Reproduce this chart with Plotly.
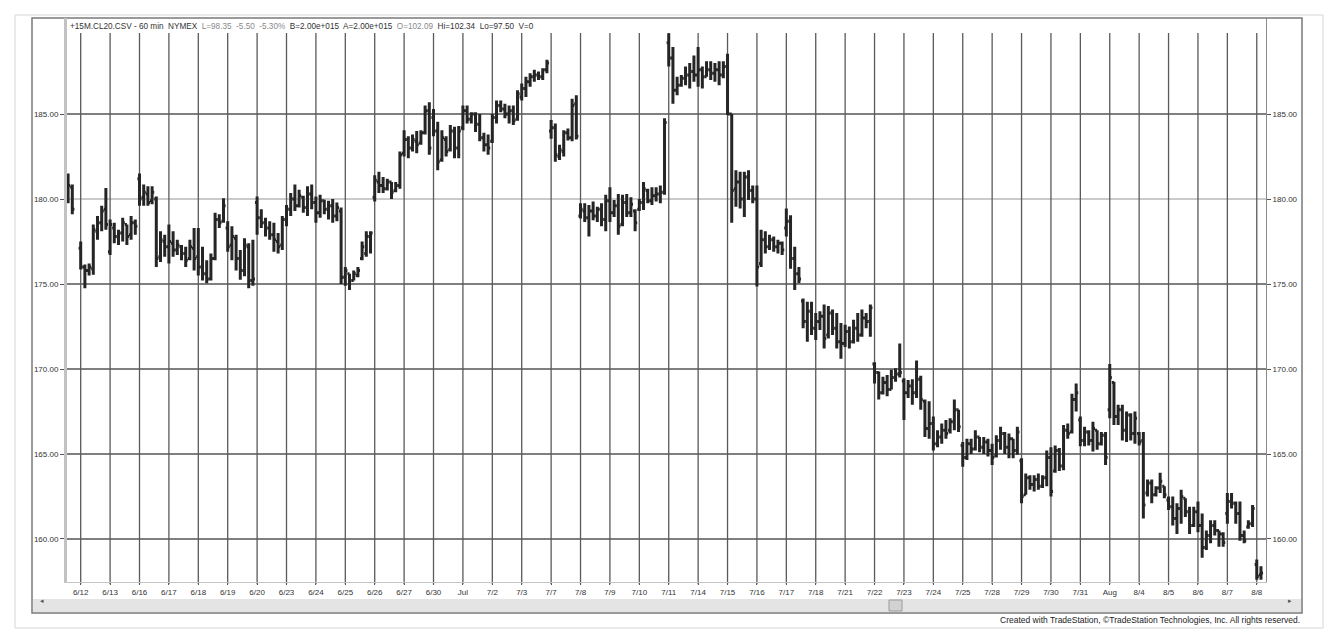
import plotly.graph_objects as go

# ---------------- data (60-min bars) ----------------
day_labels = ["6/12", "6/13", "6/16", "6/17", "6/18", "6/19", "6/20", "6/23", "6/24", "6/25",
              "6/26", "6/27", "6/30", "Jul", "7/2", "7/3", "7/7", "7/8", "7/9", "7/10",
              "7/11", "7/14", "7/15", "7/16", "7/17", "7/18", "7/21", "7/22", "7/23", "7/24",
              "7/25", "7/28", "7/29", "7/30", "7/31", "Aug", "8/4", "8/5", "8/6", "8/7", "8/8"]
bars_per_day = 7

bar_x = [-3, -2] + list(range(0, 282))

opens = [181.0, 180.7,
         177.1, 176.0, 175.8, 175.9, 178.1, 178.6, 179.4,
         176.9, 178.3, 177.8, 178.0, 178.5, 177.9, 178.6,
         181.2, 180.1, 180.3, 179.9, 180.0, 176.6, 177.5,
         177.2, 177.4, 177.0, 177.2, 176.8, 176.5, 177.1,
         176.6, 176.0, 175.6, 175.3, 176.5, 178.8, 178.7,
         178.3, 177.3, 177.7, 176.5, 175.8, 177.2, 175.2,
         179.8, 178.9, 178.6, 178.3, 177.9, 177.5, 177.3,
         178.8, 179.4, 180.0, 179.6, 180.1, 179.5, 180.3,
         179.8, 179.2, 179.9, 179.4, 179.6, 179.0, 179.3,
         175.4, 175.6, 175.2, 175.5, 176.5, 176.8, 177.8,
         180.1, 181.0, 180.8, 180.6, 181.0, 180.5, 180.8,
         182.7, 183.5, 183.0, 183.4, 183.3, 183.9, 185.2,
         184.8, 184.0, 182.3, 183.5, 182.9, 184.0, 183.0,
         184.2, 185.2, 184.7, 185.0, 184.4, 183.6, 183.2,
         183.4, 184.8, 185.5, 185.3, 185.0, 185.2, 184.7,
         186.0, 186.5, 186.9, 187.2, 187.3, 187.2, 187.6,
         184.0, 184.2, 182.5, 182.8, 183.9, 183.6, 185.6,
         179.0, 179.3, 178.9, 179.3, 179.0, 179.4, 178.8,
         179.9, 179.2, 179.6, 178.5, 179.8, 179.2, 179.3,
         179.4, 179.8, 180.5, 179.9, 180.2, 180.3, 180.4,
         189.2, 188.3, 186.4, 186.7, 187.1, 187.3, 187.5,
         187.3, 187.6, 187.2, 187.6, 187.4, 187.6, 187.3,
         187.8, 185.0, 180.6, 181.0, 180.0, 181.3, 180.5,
         180.0, 176.2, 177.6, 177.2, 177.6, 177.2, 177.4,
         178.3, 178.7, 176.5, 175.6, 174.0, 172.8, 173.4,
         172.4, 172.8, 173.1, 172.0, 173.3, 172.4, 171.6,
         171.5, 172.2, 171.6, 172.4, 172.0, 173.0, 172.8,
         170.3, 169.8, 168.6, 169.2, 168.8, 169.5, 169.7,
         169.3, 168.6, 169.0, 168.6, 169.4, 168.1, 166.5,
         166.8, 165.6, 166.0, 166.4, 166.4, 166.9, 167.6,
         165.5, 164.8, 165.6, 165.3, 166.0, 165.4, 165.7,
         165.2, 164.9, 165.8, 166.2, 165.4, 165.9, 165.2,
         164.6, 162.6, 163.6, 163.2, 163.5, 163.1, 163.6,
         164.8, 164.0, 165.2, 164.3, 166.4, 166.3, 168.2,
         167.0, 165.8, 166.3, 165.8, 166.4, 165.6, 166.1,
         167.6, 169.2, 167.2, 167.6, 166.4, 167.3, 166.2,
         166.2, 165.8, 162.7, 163.3, 162.6, 163.0, 163.1,
         162.3, 161.9, 161.2, 161.8, 162.4, 161.6, 160.8,
         161.6, 160.8, 159.5, 160.2, 160.8, 160.5, 160.3,
         161.5, 162.2, 162.1, 161.5, 160.2, 160.7, 160.9,
         158.5, 157.9]

highs = [181.5, 180.85,
         177.5, 176.15, 176.2, 178.5, 179.0, 179.6, 180.65,
         178.8, 178.6, 178.2, 178.9, 178.5, 179.0, 178.8,
         181.5, 180.85, 180.75, 180.75, 180.15, 178.1, 177.9,
         178.5, 178.1, 177.6, 177.3, 177.2, 177.6, 178.3,
         178.3, 177.2, 176.4, 176.8, 179.2, 179.1, 180.05,
         178.7, 178.4, 177.9, 177.0, 177.7, 177.4, 177.6,
         180.15, 179.4, 178.9, 178.7, 178.6, 178.0, 179.0,
         179.65, 180.35, 180.85, 180.55, 180.2, 180.75, 180.85,
         180.15, 180.25, 179.96, 179.9, 180.0, 179.8, 179.5,
         176.0, 175.6, 175.8, 176.0, 177.5, 178.1, 178.1,
         181.4, 181.6, 181.3, 181.2, 181.0, 181.0, 182.8,
         184.05, 183.7, 183.8, 184.0, 184.05, 185.5, 185.7,
         185.3, 184.55, 184.05, 183.7, 184.35, 184.25, 184.3,
         185.5, 185.5, 185.1, 185.1, 185.0, 183.9, 183.8,
         185.0, 185.8, 185.8, 185.6, 185.5, 185.5, 186.4,
         186.8, 187.2, 187.4, 187.6, 187.5, 187.7, 188.2,
         184.65, 184.45, 183.2, 184.05, 184.15, 185.9, 186.1,
         179.75, 179.75, 179.65, 179.85, 179.55, 179.75, 180.25,
         180.7, 179.95, 180.3, 180.25, 180.3, 180.1, 179.4,
         180.0, 181.0, 180.6, 180.7, 180.7, 180.8, 184.75,
         189.75, 188.95, 187.2, 187.3, 187.8, 188.0, 188.45,
         188.95, 187.8, 188.1, 188.1, 188.0, 188.1, 188.1,
         188.55, 185.0, 181.7, 181.6, 181.6, 181.7, 180.8,
         180.8, 178.2, 178.1, 177.9, 177.8, 177.6, 177.5,
         179.45, 179.05, 177.2, 176.0, 174.15, 173.95, 173.95,
         173.3, 173.4, 173.8, 173.7, 173.5, 173.3, 172.7,
         172.6, 172.5, 172.9, 173.3, 173.5, 173.3, 173.8,
         170.4, 169.85, 169.55, 169.65, 169.95, 170.05, 171.5,
         169.45, 169.35, 169.4, 170.5, 169.6, 168.2, 168.1,
         167.2, 166.4, 166.8, 167.0, 167.1, 168.2, 167.6,
         165.7, 165.9, 165.9, 166.4, 166.0, 166.0, 165.9,
         165.6, 166.1, 166.6, 166.3, 166.2, 165.9, 166.6,
         164.75, 163.85, 163.75, 163.75, 163.85, 163.75, 165.2,
         165.4, 165.5, 165.35, 166.7, 166.8, 168.55, 169.15,
         167.2, 166.6, 166.4, 166.9, 166.4, 166.3, 166.3,
         170.3, 169.25, 167.9, 167.9, 167.5, 167.4, 167.5,
         166.3, 166.3, 163.5, 163.5, 163.1, 163.9, 163.1,
         162.5, 162.5, 162.1, 162.9, 162.4, 161.9, 161.9,
         162.2, 161.5, 160.5, 161.1, 161.1, 160.5, 160.4,
         162.7, 162.7, 162.2, 162.2, 160.5, 161.1, 162.0,
         158.8, 158.4]

lows = [179.75, 179.1,
        175.85, 174.75, 175.5, 175.55, 177.6, 178.1, 178.2,
        176.7, 177.4, 177.3, 177.5, 177.3, 177.6, 177.9,
        179.6, 179.6, 179.6, 179.7, 176.0, 176.3, 176.6,
        176.2, 176.6, 176.7, 176.4, 176.0, 176.4, 175.8,
        175.5, 175.2, 175.05, 175.2, 176.4, 178.3, 178.6,
        176.9, 176.4, 175.8, 175.25, 175.45, 174.75, 174.9,
        177.9, 178.3, 177.8, 177.6, 176.9, 176.8, 177.0,
        178.4, 179.0, 179.3, 179.5, 179.2, 179.0, 179.4,
        178.6, 178.9, 179.1, 178.8, 178.6, 178.7, 175.0,
        174.9, 174.65, 175.2, 175.4, 176.4, 176.6, 176.8,
        179.85, 180.35, 180.35, 180.5, 180.0, 180.4, 180.6,
        182.5, 182.4, 182.8, 182.7, 183.2, 183.8, 182.6,
        183.7, 181.7, 182.2, 182.5, 182.8, 182.4, 182.4,
        184.05, 184.45, 184.45, 183.95, 183.4, 182.8, 182.6,
        183.3, 184.45, 185.1, 184.75, 184.45, 184.35, 184.6,
        185.8, 186.0, 186.6, 186.9, 187.0, 187.0, 187.4,
        183.55, 182.2, 182.3, 182.5, 183.45, 183.4, 183.5,
        178.85, 178.65, 177.8, 178.75, 178.65, 178.4, 178.1,
        178.65, 178.95, 177.9, 178.4, 178.95, 178.95, 178.1,
        179.3, 179.35, 179.75, 179.65, 179.85, 179.75, 180.25,
        187.8, 185.6, 186.1, 186.6, 186.7, 186.5, 186.9,
        186.6, 186.5, 187.2, 187.0, 186.9, 186.7, 187.1,
        184.95, 178.6, 179.55, 179.45, 178.95, 179.95, 179.75,
        174.85, 176.0, 176.8, 177.0, 176.9, 176.8, 176.7,
        177.8, 175.9, 174.65, 175.05, 172.4, 171.6, 172.0,
        171.7, 172.3, 171.2, 171.8, 172.0, 171.2, 170.6,
        171.3, 171.2, 171.5, 171.6, 171.9, 172.4, 171.9,
        169.15, 168.2, 168.5, 168.4, 168.8, 169.25, 169.5,
        167.0, 168.3, 167.9, 168.3, 167.6, 166.0, 165.9,
        165.2, 165.4, 165.6, 165.9, 166.2, 166.4, 166.3,
        164.25, 164.65, 165.0, 165.2, 165.1, 165.0, 164.85,
        164.35, 164.8, 165.25, 165.0, 164.75, 164.75, 164.95,
        162.1, 162.6, 162.9, 162.8, 162.9, 163.0, 163.1,
        162.5, 163.9, 164.0, 164.05, 165.9, 166.2, 167.5,
        165.45, 165.45, 165.5, 165.15, 165.25, 165.5, 164.35,
        167.1, 166.7, 166.7, 165.8, 165.7, 165.8, 165.6,
        165.5, 161.2, 162.5, 162.1, 162.5, 162.7, 162.4,
        161.7, 160.8, 160.3, 160.9, 161.3, 160.3, 160.7,
        160.4, 158.9, 159.35, 159.75, 160.2, 159.55, 159.55,
        160.9, 161.8, 160.9, 159.9, 159.75, 160.6, 160.7,
        157.6, 157.6]

closes = [180.8, 179.4,
          176.0, 175.8, 176.0, 178.2, 178.6, 179.3, 178.5,
          178.5, 177.8, 178.0, 178.6, 177.8, 178.6, 178.4,
          180.0, 180.4, 179.8, 180.4, 176.5, 177.6, 177.2,
          177.5, 177.0, 177.3, 176.8, 176.4, 177.2, 176.5,
          176.0, 175.6, 175.3, 176.5, 178.8, 178.6, 179.6,
          177.2, 177.8, 176.5, 175.8, 177.3, 175.2, 175.3,
          178.9, 178.6, 178.3, 177.9, 177.6, 177.2, 178.8,
          179.4, 180.0, 179.6, 180.2, 179.5, 180.3, 179.8,
          179.2, 179.9, 179.4, 179.6, 179.0, 179.5, 175.4,
          175.8, 175.2, 175.6, 175.8, 177.2, 177.8, 178.0,
          181.1, 180.8, 180.6, 181.0, 180.4, 180.8, 182.6,
          183.5, 183.0, 183.5, 183.2, 183.9, 185.2, 183.0,
          184.0, 182.2, 183.6, 182.8, 184.0, 183.0, 184.0,
          185.2, 184.7, 185.0, 184.4, 183.6, 183.2, 183.0,
          184.8, 185.5, 185.3, 185.0, 185.2, 184.6, 186.2,
          186.5, 186.9, 187.2, 187.3, 187.2, 187.6, 188.0,
          184.2, 182.6, 182.9, 183.9, 183.6, 185.5, 183.7,
          179.4, 178.9, 179.3, 179.0, 179.4, 178.8, 179.9,
          179.2, 179.6, 178.4, 179.8, 179.2, 179.7, 178.6,
          179.8, 180.6, 179.9, 180.2, 180.3, 180.4, 184.5,
          188.3, 186.4, 186.7, 187.1, 187.3, 187.5, 187.3,
          187.6, 187.2, 187.6, 187.4, 187.6, 187.3, 187.8,
          185.0, 180.5, 181.0, 180.0, 181.3, 180.5, 180.0,
          176.0, 177.6, 177.2, 177.6, 177.2, 177.4, 177.0,
          178.7, 176.5, 175.6, 175.3, 172.8, 173.4, 172.4,
          172.8, 173.1, 171.8, 173.3, 172.4, 171.6, 171.5,
          172.2, 171.6, 172.4, 172.0, 173.0, 172.8, 173.6,
          169.8, 168.6, 169.2, 168.8, 169.5, 169.7, 169.8,
          168.6, 169.0, 168.6, 169.4, 168.2, 166.5, 166.8,
          165.6, 166.0, 166.4, 166.2, 166.9, 167.6, 166.6,
          164.8, 165.6, 165.3, 166.0, 165.4, 165.7, 165.2,
          164.8, 165.8, 166.2, 165.4, 165.9, 165.2, 166.3,
          162.5, 163.6, 163.2, 163.5, 163.1, 163.6, 164.8,
          162.8, 165.2, 164.3, 166.4, 166.2, 168.2, 168.6,
          165.8, 166.3, 165.8, 166.5, 165.6, 166.1, 164.8,
          169.5, 167.2, 167.6, 166.4, 167.3, 166.2, 167.1,
          165.7, 162.0, 163.3, 162.6, 163.0, 163.4, 162.6,
          161.9, 161.2, 161.8, 162.5, 161.6, 160.8, 161.6,
          160.8, 159.5, 160.2, 160.8, 160.5, 160.3, 159.8,
          162.2, 162.1, 161.5, 160.2, 159.9, 160.9, 161.8,
          157.8, 158.0]

price_ticks = [160, 165, 170, 175, 180, 185]

header_text = ("+15M.CL20.CSV - 60 min  NYMEX  "
               "<span style='color:#8a8a8a'>L=98.35  -5.50  -5.30%</span>  "
               "B=2.00e+015  A=2.00e+015  <span style='color:#8a8a8a'>O=102.09</span>  "
               "Hi=102.34  Lo=97.50  V=0")
footer_text = "Created with TradeStation, \u00a9TradeStation Technologies, Inc. All rights reserved."

# ---------------- layout geometry (reference pixel positions) ----------------
# the page body adds an 8 px margin, so the figure is 8 px smaller on each axis
BODY = 8
W, H = 1338 - BODY, 639 - BODY
Lr, Rr, Tr, Br = 67, 1266, 18, 582        # plot area in screen pixels
PW, PH = Rr - Lr, Br - Tr


def px(x):
    return (x - Lr) / PW


def py(y):
    return (Br - y) / PH


day_starts = [i * bars_per_day for i in range(len(day_labels))]
x_range = [-3.26, 282.2]
y_range = [157.47, 190.65]

bar_color = "#252525"
fig = go.Figure()
fig.add_trace(go.Ohlc(
    x=bar_x, open=opens, high=highs, low=lows, close=closes,
    increasing=dict(line=dict(color=bar_color, width=3)),
    decreasing=dict(line=dict(color=bar_color, width=3)),
    tickwidth=0.5, showlegend=False, hoverinfo="skip",
))
fig.add_trace(go.Scatter(x=[bar_x[0]], y=[closes[0]], yaxis="y2", mode="markers",
                         marker=dict(opacity=0), showlegend=False, hoverinfo="skip"))

shapes = []
shapes.append(dict(type="rect", xref="paper", yref="paper", x0=px(15), x1=px(1323),
                   y0=py(628), y1=py(15), line=dict(color="#d6d6d6", width=1), layer="below"))
shapes.append(dict(type="rect", xref="paper", yref="paper", x0=px(32), x1=px(1302),
                   y0=py(613), y1=py(18), line=dict(color="#7a7a7a", width=1.5), layer="below"))
shapes.append(dict(type="rect", xref="paper", yref="paper", x0=px(33), x1=px(1301),
                   y0=py(612), y1=py(599), fillcolor="#e4e4e4", line=dict(width=0), layer="below"))
shapes.append(dict(type="rect", xref="paper", yref="paper", x0=px(889), x1=px(902),
                   y0=py(611), y1=py(600), fillcolor="#d2d2d2", line=dict(color="#9a9a9a", width=1),
                   layer="below"))
for p in price_ticks:
    col = "#b9b9b9" if p == 180 else "#555555"
    shapes.append(dict(type="line", xref="paper", yref="y", x0=0, x1=1, y0=p, y1=p,
                       line=dict(color=col, width=1.6), layer="below"))
for d in day_starts:
    shapes.append(dict(type="line", xref="x", yref="paper", x0=d, x1=d, y0=-0.004, y1=py(33),
                       line=dict(color="#5a5a5a", width=1.3), layer="below"))

annotations = [
    dict(text=header_text, xref="paper", yref="paper", x=px(68), y=py(27), xanchor="left",
         yanchor="middle", showarrow=False, font=dict(size=8.2, color="#333333")),
    dict(text=footer_text, xref="paper", yref="paper", x=px(1302), y=py(620), xanchor="right",
         yanchor="middle", showarrow=False, font=dict(size=8.5, color="#222222")),
    dict(text="\u25c2", xref="paper", yref="paper", x=px(38), y=py(606), showarrow=False,
         font=dict(size=7, color="#555555")),
    dict(text="\u25b8", xref="paper", yref="paper", x=px(1294), y=py(606), showarrow=False,
         font=dict(size=7, color="#555555")),
]

axis_font = dict(family="Liberation Sans, Arial, sans-serif", size=8, color="#333333")
fig.update_layout(
    width=W, height=H,
    margin=dict(l=Lr - BODY, r=1338 - Rr, t=Tr - BODY, b=639 - Br, pad=0),
    paper_bgcolor="white", plot_bgcolor="rgba(0,0,0,0)",
    font=dict(family="Liberation Sans, Arial, sans-serif"),
    showlegend=False,
    shapes=shapes, annotations=annotations,
    xaxis=dict(range=x_range, tickmode="array", tickvals=day_starts, ticktext=day_labels,
               showgrid=False, zeroline=False, ticks="outside", ticklen=2, tickcolor="#555555",
               tickfont=axis_font, showline=True, linecolor="#c4c4c4", linewidth=1,
               rangeslider=dict(visible=False), fixedrange=True),
    yaxis=dict(range=y_range, tickmode="array", tickvals=price_ticks, tickformat=".2f",
               showgrid=False, zeroline=False, ticks="outside", ticklen=4, tickcolor="#555555",
               tickfont=axis_font, showline=True, linecolor="#c2c2c2", linewidth=3),
    yaxis2=dict(range=y_range, overlaying="y", side="right", tickmode="array",
                tickvals=price_ticks, tickformat=".2f", showgrid=False, zeroline=False,
                ticks="outside", ticklen=4, tickcolor="#555555", tickfont=axis_font,
                showline=True, linecolor="#8a8a8a", linewidth=1),
)

fig.write_html("out.html")
